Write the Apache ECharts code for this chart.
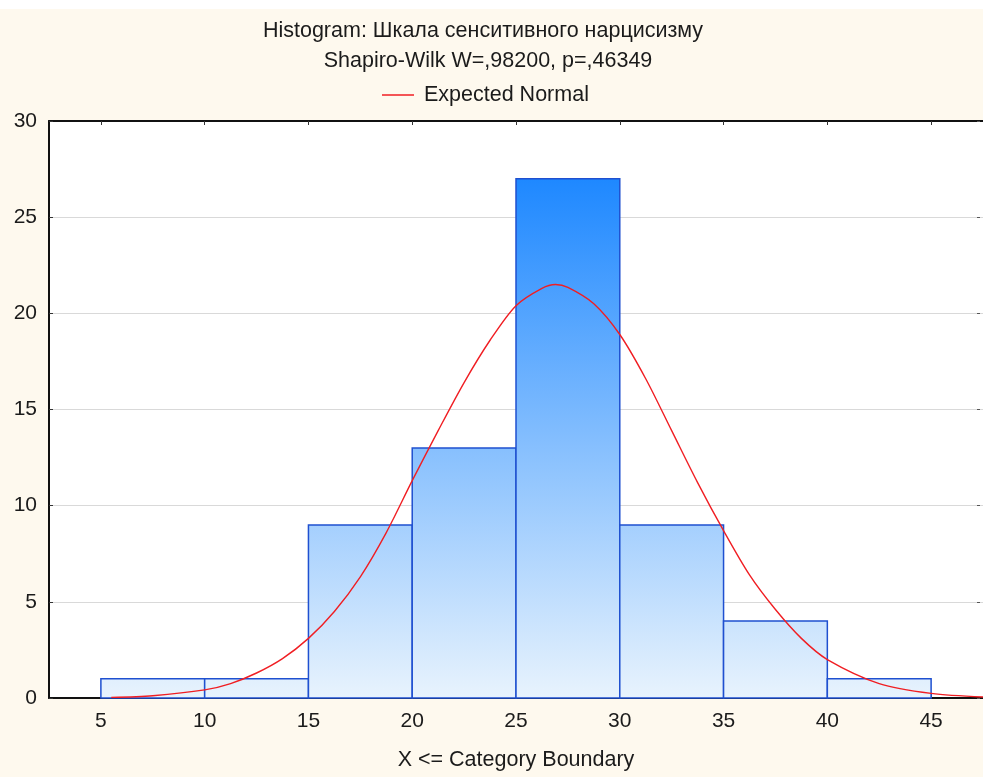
<!DOCTYPE html>
<html>
<head>
<meta charset="utf-8">
<script src="https://cdn.jsdelivr.net/npm/echarts@6/dist/echarts.min.js"></script>
<style>
  html, body { margin: 0; padding: 0; background: #fff; }
  #chart { width: 983px; height: 777px; }
</style>
</head>
<body>
<div id="chart"></div>
<script>
// histogram bins and counts
const binStarts = [5, 10, 15, 20, 25, 30, 35, 40];
const binEnds = [10, 15, 20, 25, 30, 35, 40, 45];
const binCounts = [1, 1, 9, 13, 27, 9, 4, 1];

// expected normal curve
const curveX = [5.5, 7.5, 10, 11.25, 12.5, 13.75, 15, 16.25, 17.5, 18.75, 20, 21.25, 22.5, 23.75, 25, 26.25, 26.9, 27.5,
    28.75, 30, 31.25, 32.5, 33.75, 35, 36.25, 37.5, 38.75, 40, 42.5, 45, 47.5];
const curveY = [0.03, 0.12, 0.42, 0.75, 1.3, 2.05, 3.1, 4.5, 6.3, 8.6, 11.3, 13.9, 16.4, 18.6, 20.4, 21.3, 21.5, 21.35,
    20.5, 18.9, 16.6, 13.9, 11.2, 8.7, 6.4, 4.6, 3.1, 2.0, 0.75, 0.24, 0.05];

const xTicks = [5, 10, 15, 20, 25, 30, 35, 40, 45];

const font = 'Liberation Sans, Arial, sans-serif';
const textColor = '#1b1b1b';
const fs = 21.5;

const chart = echarts.init(document.getElementById('chart'));

const barData = binStarts.map((s, i) => [s, binEnds[i], binCounts[i]]);
const lineData = curveX.map((x, i) => [x, curveY[i]]);

const option = {
    backgroundColor: '#FEF9EE',
    animation: false,
    textStyle: { fontFamily: font },
    graphic: [
        { type: 'rect', left: 0, top: 0, shape: { width: 983, height: 9 }, style: { fill: '#ffffff' }, z: -1 }
    ],
    title: [
        { text: 'Histogram: Шкала сенситивного нарцисизму', left: 483, top: 20, textAlign: 'center', padding: 0,
          textStyle: { fontSize: fs, fontWeight: 'normal', color: textColor, fontFamily: font } },
        { text: 'Shapiro-Wilk W=,98200, p=,46349', left: 488, top: 50, textAlign: 'center', padding: 0,
          textStyle: { fontSize: fs, fontWeight: 'normal', color: textColor, fontFamily: font } }
    ],
    legend: {
        data: ['Expected Normal'],
        left: 382, top: 84, padding: 0,
        itemWidth: 32, itemHeight: 1.5, itemGap: 8,
        icon: 'rect',
        textStyle: { fontSize: fs, color: textColor, fontFamily: font, padding: [0, 0, 0, 5] }
    },
    grid: {
        left: 49, right: -2, top: 121, bottom: 79,
        show: true, backgroundColor: '#ffffff', borderWidth: 0
    },
    xAxis: [
        {
            type: 'value', min: 2.5, max: 47.5,
            name: 'X <= Category Boundary', nameLocation: 'middle', nameGap: 51,
            nameTextStyle: { fontSize: fs, color: textColor, fontFamily: font },
            axisLine: { show: true, onZero: false, lineStyle: { color: '#111', width: 2 } },
            axisTick: { show: true, inside: true, length: 4, customValues: xTicks, lineStyle: { color: '#333' } },
            axisLabel: { customValues: xTicks, fontSize: 21, color: textColor, margin: 13, fontFamily: font },
            splitLine: { show: false }
        },
        {
            type: 'value', position: 'top', min: 2.5, max: 47.5,
            axisLine: { show: true, onZero: false, lineStyle: { color: '#111', width: 2 } },
            axisTick: { show: true, inside: true, length: 4, customValues: xTicks, lineStyle: { color: '#333' } },
            axisLabel: { show: false },
            splitLine: { show: false }
        }
    ],
    yAxis: [
        {
            type: 'value', min: 0, max: 30, interval: 5,
            axisLine: { show: true, onZero: false, lineStyle: { color: '#111', width: 2 } },
            axisTick: { show: true, inside: true, length: 4, lineStyle: { color: '#333' } },
            axisLabel: { fontSize: 21, color: textColor, margin: 12, fontFamily: font },
            splitLine: { show: true, lineStyle: { color: '#d9d9d9', width: 1.2 } }
        },
        {
            type: 'value', position: 'right', offset: -3, min: 0, max: 30, interval: 5,
            axisLine: { show: false },
            axisTick: { show: true, inside: true, length: 3, lineStyle: { color: '#555' } },
            axisLabel: { show: false },
            splitLine: { show: false }
        }
    ],
    series: [
        {
            type: 'custom',
            name: 'Histogram',
            data: barData,
            encode: { x: [0, 1], y: 2 },
            renderItem: (params, api) => {
                const p0 = api.coord([api.value(0), api.value(2)]);
                const p1 = api.coord([api.value(1), 0]);
                const gTop = api.coord([0, 27])[1];
                const gBot = api.coord([0, 0])[1];
                return {
                    type: 'rect',
                    shape: { x: p0[0], y: p0[1], width: p1[0] - p0[0], height: p1[1] - p0[1] },
                    style: {
                        fill: {
                            type: 'linear', x: 0, y: gTop, x2: 0, y2: gBot, global: true,
                            colorStops: [
                                { offset: 0, color: '#1E88FF' },
                                { offset: 1, color: '#E8F3FD' }
                            ]
                        },
                        stroke: '#1F50D0',
                        lineWidth: 1.5
                    }
                };
            },
            z: 2
        },
        {
            type: 'line',
            name: 'Expected Normal',
            data: lineData,
            smooth: 0.3,
            showSymbol: false,
            symbol: 'none',
            color: '#F01E23',
            lineStyle: { color: '#F01E23', width: 1.4 },
            z: 3
        }
    ]
};

chart.setOption(option);
</script>
</body>
</html>
